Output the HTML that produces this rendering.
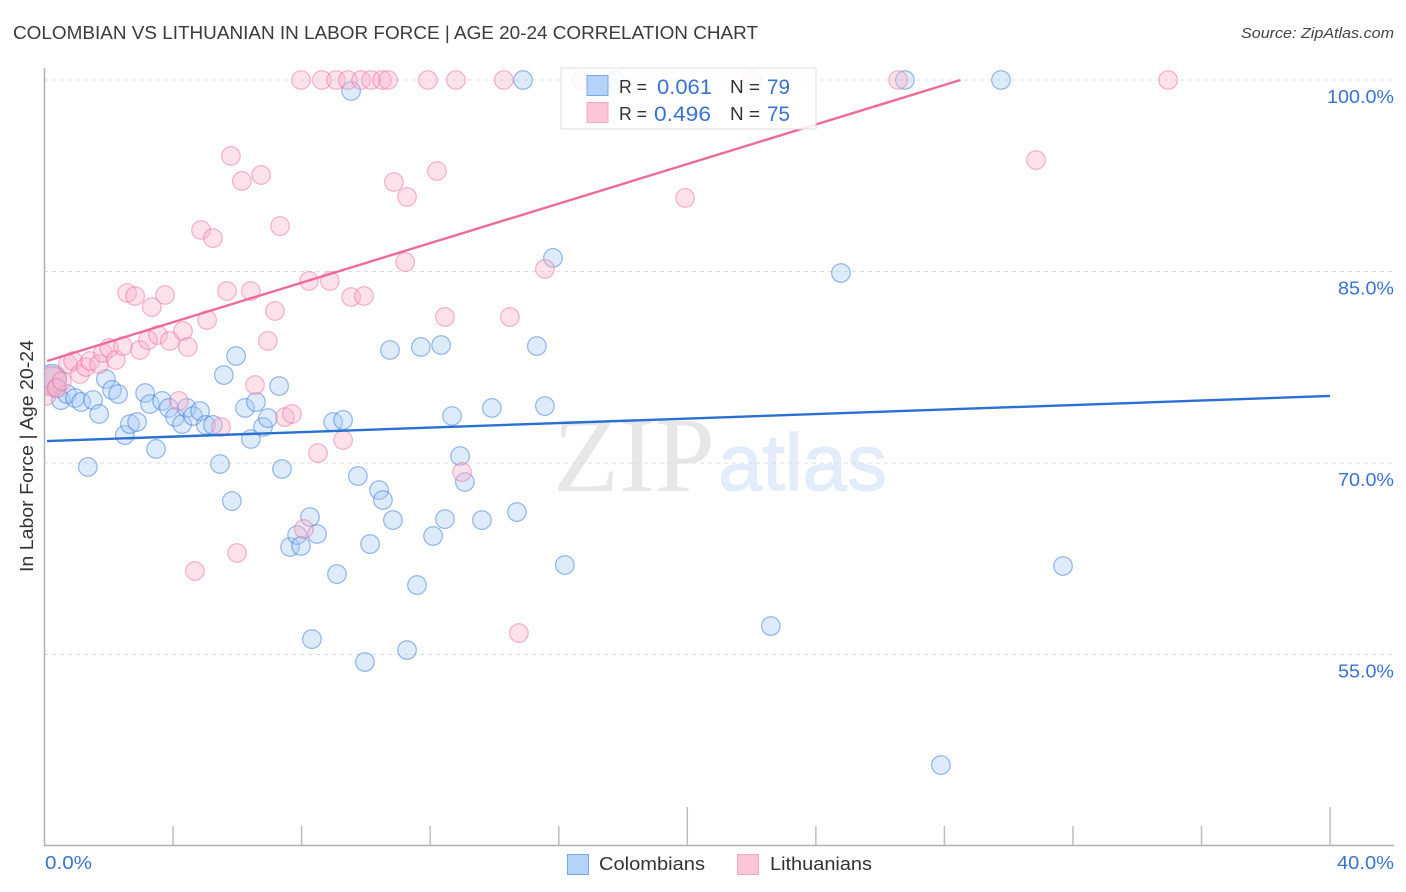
<!DOCTYPE html>
<html lang="en">
<head>
<meta charset="utf-8">
<title>Colombian vs Lithuanian in Labor Force | Age 20-24 Correlation Chart</title>
<style>
html,body{margin:0;padding:0;background:#fff;width:1406px;height:892px;overflow:hidden}
svg{display:block;font-family:"Liberation Sans",sans-serif}
</style>
</head>
<body>
<svg id="chart" width="1406" height="892" viewBox="0 0 1406 892" xmlns="http://www.w3.org/2000/svg">
  <defs><clipPath id="plot-clip"><rect x="45" y="60" width="1349" height="785"/></clipPath></defs>
  <text x="13" y="39" font-size="18" fill="#3a3a3a" textLength="745" lengthAdjust="spacingAndGlyphs">COLOMBIAN VS LITHUANIAN IN LABOR FORCE | AGE 20-24 CORRELATION CHART</text>
  <text x="1394" y="38" font-size="15" font-style="italic" fill="#444" text-anchor="end" textLength="153" lengthAdjust="spacingAndGlyphs">Source: ZipAtlas.com</text>
  <g>
    <text x="553" y="491" font-family="'Liberation Serif',serif" font-size="107" fill="#e7e7e7" textLength="162" lengthAdjust="spacingAndGlyphs">ZIP</text>
    <text x="718" y="490" font-size="80" fill="#e3ecfa" stroke="#e3ecfa" stroke-width="1.2" textLength="169" lengthAdjust="spacingAndGlyphs">atlas</text>
  </g>
  <g id="grid"></g>
  <g id="pts-blue" clip-path="url(#plot-clip)"></g>
  <g id="pts-pink" clip-path="url(#plot-clip)"></g>
  <g id="trends"></g>
  <g id="axes">
    <line x1="44.5" y1="68" x2="44.5" y2="846" stroke="#b0b0b0" stroke-width="1.5"/>
    <line x1="44" y1="845.5" x2="1394" y2="845.5" stroke="#b0b0b0" stroke-width="1.5"/>
  </g>
  <g id="ticks"></g>
  <text transform="translate(33,456) rotate(-90)" font-size="18" fill="#333" text-anchor="middle" textLength="232" lengthAdjust="spacingAndGlyphs">In Labor Force | Age 20-24</text>
  <g>
    <rect x="561" y="68" width="255" height="61" fill="#fff" fill-opacity="0.85" stroke="#ddd" stroke-width="1"/>
    <rect x="587" y="75.5" width="21" height="20" fill="#b5d2f8" stroke="#78a8e4"/>
    <rect x="587" y="102.5" width="21" height="20" fill="#fcc6d8" stroke="#f5a8c2"/>
    <text x="619" y="93" font-size="18" fill="#333" textLength="28" lengthAdjust="spacingAndGlyphs">R =</text>
    <text x="657" y="94" font-size="21" fill="#3a72d0" textLength="55" lengthAdjust="spacingAndGlyphs">0.061</text>
    <text x="730" y="93" font-size="18" fill="#333" textLength="30" lengthAdjust="spacingAndGlyphs">N =</text>
    <text x="767" y="94" font-size="21" fill="#3a72d0" textLength="23" lengthAdjust="spacingAndGlyphs">79</text>
    <text x="619" y="120" font-size="18" fill="#333" textLength="28" lengthAdjust="spacingAndGlyphs">R =</text>
    <text x="654" y="121" font-size="21" fill="#3a72d0" textLength="57" lengthAdjust="spacingAndGlyphs">0.496</text>
    <text x="730" y="120" font-size="18" fill="#333" textLength="30" lengthAdjust="spacingAndGlyphs">N =</text>
    <text x="767" y="121" font-size="21" fill="#3a72d0" textLength="23" lengthAdjust="spacingAndGlyphs">75</text>
  </g>
  <g>
    <rect x="567.5" y="854.5" width="21" height="20" fill="#b5d2f8" stroke="#78a8e4"/>
    <text x="599" y="870" font-size="18" fill="#333" textLength="106" lengthAdjust="spacingAndGlyphs">Colombians</text>
    <rect x="737.5" y="854.5" width="21" height="20" fill="#fcc6d8" stroke="#f5a8c2"/>
    <text x="770" y="870" font-size="18" fill="#333" textLength="102" lengthAdjust="spacingAndGlyphs">Lithuanians</text>
  </g>
</svg>
<script>
var colombiansX = [0.23,0.36,0.51,0.70,0.95,1.14,1.51,1.70,1.35,1.91,2.10,2.29,2.50,2.66,2.88,3.13,3.28,3.47,3.66,3.87,4.06,4.28,4.43,4.62,4.84,5.02,5.24,5.46,5.58,5.83,5.96,6.24,6.42,6.58,6.80,6.95,7.30,7.39,7.64,7.86,7.98,8.26,8.48,8.32,8.98,9.29,9.10,9.54,9.75,9.97,10.13,10.41,10.53,10.84,10.75,11.28,11.59,11.71,12.09,12.34,12.46,12.68,12.93,13.08,13.61,13.92,14.70,14.89,15.32,15.57,15.82,16.19,17.75,22.60,24.78,26.77,27.89,29.76,31.69];
var colombiansY = [76.58,75.87,74.93,75.40,75.09,74.78,74.93,73.84,69.69,76.58,75.72,75.40,72.19,73.05,73.21,75.48,74.62,71.10,74.86,74.31,73.60,73.05,74.31,73.68,74.07,72.98,72.98,69.92,76.89,67.02,78.38,74.31,71.88,74.78,72.82,73.52,76.03,69.53,63.42,64.36,63.50,65.77,64.44,56.21,73.21,73.37,61.30,99.14,68.98,54.41,63.65,67.88,67.10,65.53,78.85,55.35,60.44,79.09,64.28,79.24,65.61,73.68,70.55,68.51,65.53,74.31,66.16,100,79.16,74.46,86.06,62.01,100,57.23,84.88,100,46.34,100,61.93];
var lithuaniansX = [0.05,0.23,0.39,0.54,0.73,0.89,1.10,1.29,1.42,1.70,1.82,2.01,2.22,2.44,2.57,2.82,2.97,3.22,3.34,3.53,3.75,3.90,4.18,4.31,4.46,4.68,4.87,5.06,5.24,5.49,5.68,5.80,5.99,6.14,6.42,6.55,6.74,6.95,7.17,7.33,7.48,7.70,7.98,8.07,8.23,8.51,8.63,8.88,9.07,9.29,9.44,9.54,9.85,9.94,10.16,10.50,10.69,10.87,11.22,11.28,11.93,12.21,12.46,12.80,12.99,14.29,14.48,14.76,15.57,16.69,19.93,22.01,26.56,30.85,34.96];
var lithuaniansY = [75.25,76.40,75.87,76.42,77.75,77.99,76.97,77.52,77.99,77.75,78.62,79.01,78.07,79.16,83.32,83.08,78.85,79.63,82.22,80.03,83.16,79.56,74.86,80.34,79.09,61.54,88.25,81.20,87.62,72.82,83.47,94.05,62.95,92.09,83.47,76.11,92.56,79.56,81.91,88.56,73.60,73.84,100,64.83,84.26,70.78,100,84.26,100,71.80,100,83.00,100,83.08,100,100,100,92.01,85.74,90.84,100,92.87,81.44,100,69.29,100,81.44,56.68,85.20,100,90.76,100,100,93.73,100];
var colombiansTrendX = [0.08,40];
var colombiansTrendY = [71.72,75.25];
var lithuaniansTrendX = [0.08,28.5];
var lithuaniansTrendY = [77.99,100];
var yTickValues = [100,85,70,55];
var yTickLabels = ["100.0%","85.0%","70.0%","55.0%"];
var xTickValues = [0,4,8,12,16,20,24,28,32,36,40];
var xEndLabels = ["0.0%","40.0%"];

var NS = "http://www.w3.org/2000/svg";
function xScale(v){ return 44.5 + v * 32.14; }
function yScale(v){ return 80 + (100 - v) * 12.767; }
function make(tag, parent, attrs){
  var el = document.createElementNS(NS, tag);
  for (var k in attrs) el.setAttribute(k, attrs[k]);
  parent.appendChild(el);
  return el;
}

var grid = document.getElementById("grid");
yTickValues.forEach(function(v, i){
  var g = make("line", grid, {x1:44, x2:1394, y1:yScale(v), y2:yScale(v), stroke:"#dedede", "stroke-width":1, "stroke-dasharray":"4 4"});
  
  
  var t = make("text", grid, {x:1394, y:yScale(v)+23, "font-size":18.5, fill:"#3a72d0", "text-anchor":"end", textLength:yTickLabels[i].length===6?67:56, lengthAdjust:"spacingAndGlyphs"});
  t.textContent = yTickLabels[i];
  
  
});

var ticks = document.getElementById("ticks");
xTickValues.forEach(function(v, i){
  if (i === 0) return;
  var tall = (i === 5 || i === 10);
  var l = make("line", ticks, {x1:xScale(v), x2:xScale(v), y1:tall?807:826, y2:845, stroke:"#bdbdbd", "stroke-width":1.5});
  
  
});
var t0 = make("text", ticks, {x:45, y:869, "font-size":18.5, fill:"#3a72d0", textLength:47, lengthAdjust:"spacingAndGlyphs"});
t0.textContent = xEndLabels[0];


var t1 = make("text", ticks, {x:1394, y:869, "font-size":18.5, fill:"#3a72d0", "text-anchor":"end", textLength:57, lengthAdjust:"spacingAndGlyphs"});
t1.textContent = xEndLabels[1];



function drawPoints(id, xs, ys, fill, stroke, bigIndex){
  var g = document.getElementById(id);
  xs.forEach(function(x, i){
    var c = make("circle", g, {cx:xScale(x), cy:yScale(ys[i]), r:i===bigIndex?14.5:9.3, fill:fill, "fill-opacity":i===bigIndex?0.65:0.38, stroke:stroke, "stroke-opacity":0.48, "stroke-width":1.25});
    
    
  });
}
drawPoints("pts-blue", colombiansX, colombiansY, "#a9cbf5", "#2f73d6", 0);
drawPoints("pts-pink", lithuaniansX, lithuaniansY, "#f9b4cc", "#ea6b99", 1);

var trends = document.getElementById("trends");
var tb = make("line", trends, {x1:xScale(colombiansTrendX[0]), y1:yScale(colombiansTrendY[0]), x2:xScale(colombiansTrendX[1]), y2:yScale(colombiansTrendY[1]), stroke:"#2a6fd2", "stroke-width":2.4});


var tp = make("line", trends, {x1:xScale(lithuaniansTrendX[0]), y1:yScale(lithuaniansTrendY[0]), x2:xScale(lithuaniansTrendX[1]), y2:yScale(lithuaniansTrendY[1]), stroke:"#ec6b9b", "stroke-width":2.4});


</script>
</body>
</html>
